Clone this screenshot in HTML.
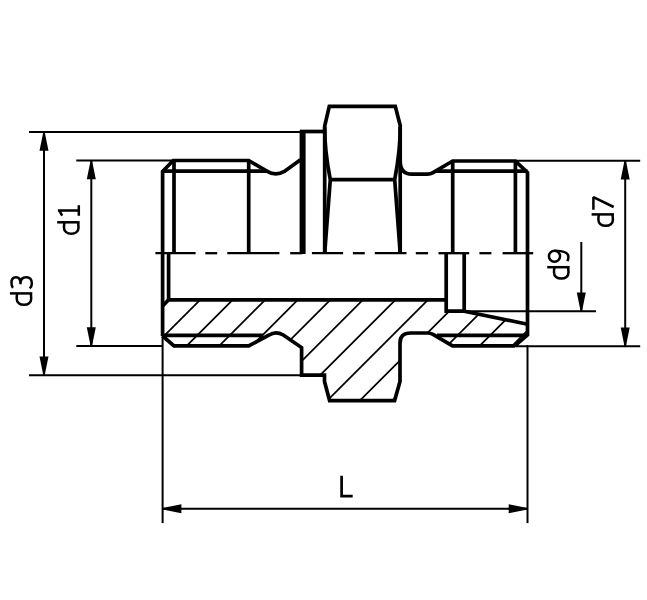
<!DOCTYPE html>
<html><head><meta charset="utf-8"><style>
html,body{margin:0;padding:0;background:#fff;width:647px;height:600px;overflow:hidden}
svg{display:block}
</style></head><body>
<svg width="647" height="600" viewBox="0 0 647 600" stroke="#000" fill="none">
<line x1="29" y1="131.9" x2="300" y2="131.9" stroke-width="2.0" stroke-linecap="butt"/>
<line x1="29" y1="375.3" x2="301" y2="375.3" stroke-width="2.0" stroke-linecap="butt"/>
<line x1="44" y1="132" x2="44" y2="375" stroke-width="2.0" stroke-linecap="butt"/>
<polygon points="44.70,131.90 48.50,150.70 39.50,150.70 43.30,131.90" fill="#000" stroke="none"/>
<polygon points="43.30,375.30 39.50,356.50 48.50,356.50 44.70,375.30" fill="#000" stroke="none"/>
<line x1="76.3" y1="160.5" x2="173" y2="160.5" stroke-width="2.0" stroke-linecap="butt"/>
<line x1="76.3" y1="346" x2="163" y2="346" stroke-width="2.0" stroke-linecap="butt"/>
<line x1="91.3" y1="160.5" x2="91.3" y2="346" stroke-width="2.0" stroke-linecap="butt"/>
<polygon points="92.00,160.50 95.80,179.30 86.80,179.30 90.60,160.50" fill="#000" stroke="none"/>
<polygon points="90.60,346.00 86.80,327.20 95.80,327.20 92.00,346.00" fill="#000" stroke="none"/>
<line x1="516" y1="160.8" x2="640.2" y2="160.8" stroke-width="2.0" stroke-linecap="butt"/>
<line x1="514" y1="346.2" x2="640.2" y2="346.2" stroke-width="2.0" stroke-linecap="butt"/>
<line x1="625.2" y1="161" x2="625.2" y2="346" stroke-width="2.0" stroke-linecap="butt"/>
<polygon points="625.90,160.80 629.70,179.60 620.70,179.60 624.50,160.80" fill="#000" stroke="none"/>
<polygon points="624.50,346.20 620.70,327.40 629.70,327.40 625.90,346.20" fill="#000" stroke="none"/>
<line x1="464" y1="311.2" x2="596" y2="311.2" stroke-width="2.0" stroke-linecap="butt"/>
<line x1="581.3" y1="242" x2="581.3" y2="311" stroke-width="2.0" stroke-linecap="butt"/>
<polygon points="580.60,311.20 576.80,292.40 585.80,292.40 582.00,311.20" fill="#000" stroke="none"/>
<line x1="162.6" y1="336" x2="162.6" y2="523.1" stroke-width="2.0" stroke-linecap="butt"/>
<line x1="527.5" y1="345" x2="527.5" y2="523.1" stroke-width="2.0" stroke-linecap="butt"/>
<line x1="162.6" y1="508.7" x2="527.5" y2="508.7" stroke-width="2.0" stroke-linecap="butt"/>
<polygon points="162.60,508.00 181.40,504.20 181.40,513.20 162.60,509.40" fill="#000" stroke="none"/>
<polygon points="527.50,509.40 508.70,513.20 508.70,504.20 527.50,508.00" fill="#000" stroke="none"/>
<defs><clipPath id="sc"><path d="M168.6,299.8 L446.2,299.8 L446.2,311.2 L464.2,311.2 L527.5,324.2 L527.5,334.8 L514.8,345.9 L452.5,345.9 L430,333 L410.5,333 Q400,333 400,343 L400,381.5 L394.6,400.6 L329.6,400.6 L324.5,381.5 L324.5,375.2 L301.6,375.2 L301.6,347.6 L283.3,335 Q275.7,330.6 269.2,335 L248.7,345.9 L174,345.9 L162.6,336 L162.6,306 Z"/></clipPath></defs>
<path d="M210.00,290 L90.00,410 M242.55,290 L122.55,410 M275.10,290 L155.10,410 M307.65,290 L187.65,410 M340.20,290 L220.20,410 M372.75,290 L252.75,410 M405.30,290 L285.30,410 M437.85,290 L317.85,410 M470.40,290 L350.40,410 M502.95,290 L382.95,410 M535.50,290 L415.50,410 M568.05,290 L448.05,410" stroke-width="1.75" clip-path="url(#sc)"/>
<line x1="155.4" y1="253.2" x2="195.6" y2="253.2" stroke-width="2.3" stroke-linecap="butt"/>
<line x1="205.3" y1="253.2" x2="217.2" y2="253.2" stroke-width="2.3" stroke-linecap="butt"/>
<line x1="227.3" y1="253.2" x2="279.4" y2="253.2" stroke-width="2.3" stroke-linecap="butt"/>
<line x1="290.2" y1="253.2" x2="302" y2="253.2" stroke-width="2.3" stroke-linecap="butt"/>
<line x1="311.9" y1="253.2" x2="343.1" y2="253.2" stroke-width="2.3" stroke-linecap="butt"/>
<line x1="352.9" y1="253.2" x2="364.8" y2="253.2" stroke-width="2.3" stroke-linecap="butt"/>
<line x1="374.8" y1="253.2" x2="406.5" y2="253.2" stroke-width="2.3" stroke-linecap="butt"/>
<line x1="415.8" y1="253.2" x2="428.1" y2="253.2" stroke-width="2.3" stroke-linecap="butt"/>
<line x1="438.5" y1="253.2" x2="469.2" y2="253.2" stroke-width="2.3" stroke-linecap="butt"/>
<line x1="479.4" y1="253.2" x2="491.4" y2="253.2" stroke-width="2.3" stroke-linecap="butt"/>
<line x1="502.6" y1="253.2" x2="533.2" y2="253.2" stroke-width="2.3" stroke-linecap="butt"/>
<path d="M162.6,336 L162.6,171.4 L173.2,160.5 L248.7,160.5 L267.3,171.4 Q275.7,176.4 284.3,171.4 L300.5,159.8" stroke-width="3.7" stroke-linejoin="miter" stroke-linecap="butt" fill="none"/>
<line x1="162.6" y1="171.1" x2="266.5" y2="171.1" stroke-width="3.7" stroke-linecap="butt"/>
<line x1="174" y1="160.5" x2="174" y2="253.2" stroke-width="3.7" stroke-linecap="butt"/>
<line x1="248.7" y1="160.5" x2="248.7" y2="253.2" stroke-width="3.7" stroke-linecap="butt"/>
<line x1="302.6" y1="130.3" x2="302.6" y2="254" stroke-width="6.0" stroke-linecap="butt"/>
<line x1="300" y1="131.5" x2="325.5" y2="131.5" stroke-width="3.7" stroke-linecap="butt"/>
<path d="M324.7,253.2 L324.7,126 L329.3,106.4 L395.3,106.4 L400.2,125.5 L400.2,253.2" stroke-width="3.7" stroke-linejoin="miter" stroke-linecap="butt" fill="none"/>
<path d="M324.7,127 Q324.5,150 330.3,179.7 L324.7,253" stroke-width="3.7" stroke-linejoin="miter" stroke-linecap="butt" fill="none"/>
<path d="M400.2,127 Q400.4,150 394.7,179.7 L400.2,253" stroke-width="3.7" stroke-linejoin="miter" stroke-linecap="butt" fill="none"/>
<line x1="330.3" y1="179.7" x2="394.7" y2="179.7" stroke-width="3.7" stroke-linecap="butt"/>
<path d="M400.2,161 Q400.2,174.2 412,174.2 L427.5,174.2 Q430.5,174.2 433,172.7 L452.7,161 L515.4,161 L527.5,172.6 L527.5,334.8 L514.8,345.9" stroke-width="3.7" stroke-linejoin="miter" stroke-linecap="butt" fill="none"/>
<line x1="436" y1="171.1" x2="527.5" y2="171.1" stroke-width="3.7" stroke-linecap="butt"/>
<line x1="452.7" y1="161" x2="452.7" y2="253.2" stroke-width="3.7" stroke-linecap="butt"/>
<line x1="515.4" y1="161" x2="515.4" y2="253.2" stroke-width="3.7" stroke-linecap="butt"/>
<line x1="168.6" y1="253.2" x2="168.6" y2="300" stroke-width="3.7" stroke-linecap="butt"/>
<path d="M162.6,306 L168.6,299.8 L446.2,299.8" stroke-width="3.7" stroke-linejoin="miter" stroke-linecap="butt" fill="none"/>
<path d="M446.2,253.2 L446.2,311.2 L464.2,311.2 L464.2,253.2" stroke-width="3.7" stroke-linejoin="miter" stroke-linecap="butt" fill="none"/>
<path d="M464.2,311.2 L527.5,324.2" stroke-width="3.7" stroke-linejoin="miter" stroke-linecap="butt" fill="none"/>
<line x1="162.6" y1="335.3" x2="263.3" y2="335.3" stroke-width="3.7" stroke-linecap="butt"/>
<path d="M162.6,336 L174,345.9 L248.7,345.9 L269.2,335 Q275.7,330.6 283.3,335 L301.6,347.6 L301.6,375.2 L324.5,375.2 L324.5,381.5 L329.6,400.6 L394.6,400.6 L400,381.5 L400,343 Q400,333 410.5,333 L427.5,333 Q430.5,333 433,334.4 L452.5,345.9 L514.8,345.9" stroke-width="3.7" stroke-linejoin="miter" stroke-linecap="butt" fill="none"/>
<line x1="437" y1="335.4" x2="527.5" y2="335.4" stroke-width="3.7" stroke-linecap="butt"/>
<g transform="translate(32.3,305.6) rotate(-90)" stroke-width="2.5" fill="none"><path d="M12.2,-22.4 V0"/><path d="M12.2,-15.1 C10,-15.6 8.2,-15.6 6.8,-15.6 C3,-15.6 0.8,-12.5 0.8,-8.3 C0.8,-4.1 3,-1.1 6.8,-1.1 C8.2,-1.1 10,-1.2 12.2,-1.6"/><path d="M17.8,-19.4 C19,-20.5 20.8,-20.85 23,-20.85 C26.5,-20.85 28.45,-19 28.45,-16.3 C28.45,-13.4 26,-11.8 22.5,-11.8 H21.3 M22.5,-11.8 C26.5,-11.8 28.45,-9.5 28.45,-6 C28.45,-2.2 25.8,-0.45 22.2,-0.45 C20.2,-0.45 18.6,-0.9 17.2,-2.6"/></g>
<g transform="translate(79.6,234.5) rotate(-90)" stroke-width="2.5" fill="none"><path d="M12.2,-22.4 V0"/><path d="M12.2,-15.1 C10,-15.6 8.2,-15.6 6.8,-15.6 C3,-15.6 0.8,-12.5 0.8,-8.3 C0.8,-4.1 3,-1.1 6.8,-1.1 C8.2,-1.1 10,-1.2 12.2,-1.6"/><path d="M24.1,-21.7 V-0.8 M18.7,-0.8 H29.2 M24.1,-20.4 L18.9,-17.4"/></g>
<g transform="translate(614,226.6) rotate(-90)" stroke-width="2.5" fill="none"><path d="M12.2,-22.4 V0"/><path d="M12.2,-15.1 C10,-15.6 8.2,-15.6 6.8,-15.6 C3,-15.6 0.8,-12.5 0.8,-8.3 C0.8,-4.1 3,-1.1 6.8,-1.1 C8.2,-1.1 10,-1.2 12.2,-1.6"/><path d="M16.8,-20.6 H29.4 L19.6,-0.3" stroke-linejoin="bevel"/></g>
<g transform="translate(569.6,279.4) rotate(-90)" stroke-width="2.5" fill="none"><path d="M12.2,-22.4 V0"/><path d="M12.2,-15.1 C10,-15.6 8.2,-15.6 6.8,-15.6 C3,-15.6 0.8,-12.5 0.8,-8.3 C0.8,-4.1 3,-1.1 6.8,-1.1 C8.2,-1.1 10,-1.2 12.2,-1.6"/><ellipse cx="23.2" cy="-15.1" rx="5.45" ry="5.55"/><path d="M28.65,-15.1 C28.65,-6 27,-1.2 22.5,-1.2 C20.8,-1.2 19.5,-1.6 18.3,-2.3"/></g>
<path d="M341.6,475.8 V496.2 H352.7" stroke-width="2.7" stroke-linejoin="miter" stroke-linecap="butt" fill="none"/>
</svg>
</body></html>
